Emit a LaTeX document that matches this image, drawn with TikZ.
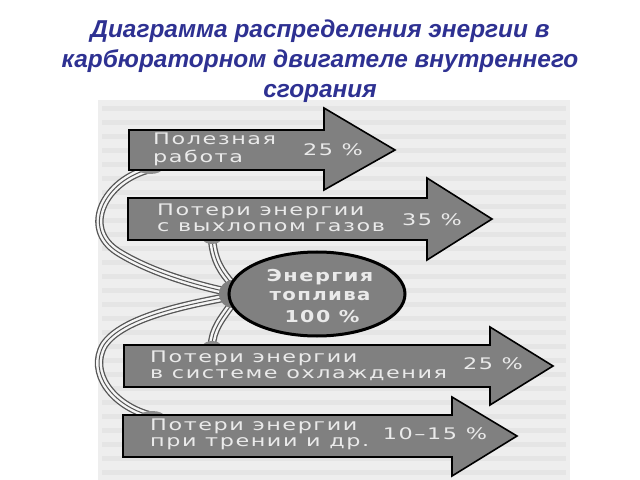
\documentclass[tikz,border=0pt]{standalone}
\usepackage{fontspec}
\setmainfont{Liberation Sans}
\newfontfamily\arrfont[LetterSpace=7]{DejaVu Sans}
\usetikzlibrary{shapes.geometric}
\definecolor{titleblue}{RGB}{46,49,146}
\definecolor{arrgray}{RGB}{128,128,128}
\definecolor{txtgray}{RGB}{234,234,234}
\definecolor{ribdark}{RGB}{85,85,85}
\definecolor{ribwhite}{RGB}{245,245,245}
\definecolor{scanbg}{RGB}{238,238,238}
\definecolor{scanline}{RGB}{229,229,229}
\newcommand{\wide}[2]{\scalebox{#1}[1]{\begin{tabular}{@{}l@{}}#2\end{tabular}}}
\begin{document}
\begin{tikzpicture}[x=1bp,y=-1bp,
  bigarrow/.style={fill=arrgray, draw=black, line width=1.6bp, line join=miter},
  lbl/.style={text=txtgray, anchor=west, inner sep=0,
    font=\arrfont\fontsize{16}{16.5}\selectfont},
  pct/.style={text=txtgray, inner sep=0,
    font=\arrfont\fontsize{16}{16.5}\selectfont},
  fueltxt/.style={text=txtgray, inner sep=0,
    font=\arrfont\bfseries\fontsize{16.5}{17}\selectfont},
  ribbon/.style={draw=ribwhite, line width=5.8bp,
    preaction={draw=ribdark, line width=8.4bp},
    postaction={draw=ribdark, line width=1bp}},
  tab/.style={fill=arrgray!90, draw=none}]
\useasboundingbox (0,0) rectangle (640,480);
\fill[white] (0,0) rectangle (640,480);
% scanned page background
\fill[scanbg] (98,100) rectangle (570,480);
\foreach \yy in {106,120,...,478} {\fill[scanline] (102,\yy) rectangle (566,\yy+5);}
% title
\node[text=titleblue, align=center, inner sep=0,
  font=\bfseries\itshape\fontsize{24.5}{30}\selectfont] (title) at (320,61)
  {Диаграмма распределения энергии в\\карбюраторном двигателе внутреннего\\сгорания};
% anchor points of the ribbons
\coordinate (a1) at (150,169);
\coordinate (a2) at (212,239);
\coordinate (a3) at (212,346);
\coordinate (a4) at (152,416);
\coordinate (h1) at (228,292);
\coordinate (h2) at (232,284);
\coordinate (h3) at (232,304);
\coordinate (h4) at (228,297);
% ribbons
\draw[ribbon] (a1) .. controls (105,180) and (80,228) .. (118,252)
  .. controls (150,272) and (195,285) .. (h1);
\draw[ribbon] (h4) .. controls (185,305) and (122,318) .. (104,345)
  .. controls (88,372) and (112,406) .. (a4);
\draw[ribbon] (a2) .. controls (214,262) and (222,272) .. (h2);
\draw[ribbon] (h3) .. controls (222,318) and (212,330) .. (a3);
% tabs where the ribbons meet the arrows
\fill[tab] (a1) ellipse (12 and 5);
\fill[tab] (a2) ellipse (9 and 5);
\fill[tab] (a3) ellipse (9 and 5);
\fill[tab] (a4) ellipse (12 and 5);
% arrows
\path[bigarrow] (129,130) -- (324,130) -- (324,108) -- (395,150) -- (324,190) -- (324,170) -- (129,170) -- cycle;
\path[bigarrow] (128,198) -- (427,198) -- (427,178) -- (492,219) -- (427,260) -- (427,240) -- (128,240) -- cycle;
\path[bigarrow] (124,345) -- (490,345) -- (490,327) -- (553,366) -- (490,405) -- (490,387) -- (124,387) -- cycle;
\path[bigarrow] (123,415) -- (452,415) -- (452,397) -- (517,436) -- (452,476) -- (452,457) -- (123,457) -- cycle;
% hub and fuel ellipse
\node[circle, fill=arrgray, minimum size=28bp, inner sep=0] (hub) at (233,294) {};
\node[ellipse, fill=arrgray, draw=black, line width=3bp, minimum width=176bp, minimum height=84bp, inner sep=0] (fuel) at (317,294) {};
\node[fueltxt] (e1) at (320,277) {\scalebox{1.27}[1]{Энергия}};
\node[fueltxt] (e2) at (320,296) {\scalebox{1.2}[1]{топлива}};
\node[fueltxt] (e3) at (322,317) {\scalebox{1.25}[1]{100 \%}};
% arrow labels
\node[lbl] (t1) at (153,150) {\wide{1.4}{Полезная\\работа}};
\node[pct] (p1) at (333,150) {\scalebox{1.4}[1]{25 \%}};
\node[lbl] (t2) at (157,220) {\wide{1.4}{Потери энергии\\с выхлопом газов}};
\node[pct] (p2) at (432,220) {\scalebox{1.4}[1]{35 \%}};
\node[lbl] (t3) at (150,367) {\wide{1.4}{Потери энергии\\в системе охлаждения}};
\node[pct] (p3) at (493,364) {\scalebox{1.4}[1]{25 \%}};
\node[lbl] (t4) at (150,435) {\wide{1.4}{Потери энергии\\при трении и др.}};
\node[pct] (p4) at (435,434) {\scalebox{1.4}[1]{10–15 \%}};
\end{tikzpicture}
\end{document}
